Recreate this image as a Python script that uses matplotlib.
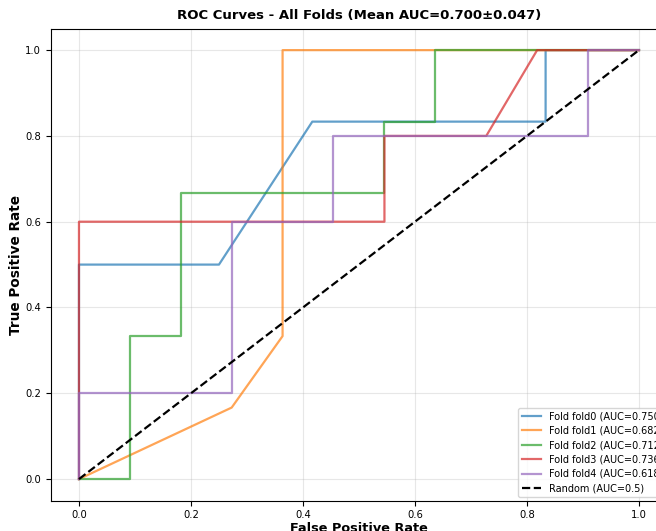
import numpy as np
import matplotlib
matplotlib.use("Agg")
import matplotlib.pyplot as plt

# ROC points per fold (fpr, tpr)
fold_names = ["fold0", "fold1", "fold2", "fold3", "fold4"]
fold_aucs = [0.750, 0.682, 0.712, 0.736, 0.618]
mean_auc = 0.700
std_auc = 0.047

fpr0 = [0.0, 0.0, 0.25, 0.4167, 0.8333, 0.8333, 1.0]
tpr0 = [0.0, 0.5, 0.5, 0.8333, 0.8333, 1.0, 1.0]

fpr1 = [0.0, 0.2727, 0.3636, 0.3636, 1.0]
tpr1 = [0.0, 0.1667, 0.3333, 1.0, 1.0]

fpr2 = [0.0, 0.0909, 0.0909, 0.1818, 0.1818, 0.5455, 0.5455, 0.6364, 0.6364, 1.0]
tpr2 = [0.0, 0.0, 0.3333, 0.3333, 0.6667, 0.6667, 0.8333, 0.8333, 1.0, 1.0]

fpr3 = [0.0, 0.0, 0.5455, 0.5455, 0.7273, 0.8182, 1.0]
tpr3 = [0.0, 0.6, 0.6, 0.8, 0.8, 1.0, 1.0]

fpr4 = [0.0, 0.0, 0.2727, 0.2727, 0.4545, 0.4545, 0.9091, 0.9091, 1.0]
tpr4 = [0.0, 0.2, 0.2, 0.6, 0.6, 0.8, 0.8, 1.0, 1.0]

fprs = [fpr0, fpr1, fpr2, fpr3, fpr4]
tprs = [tpr0, tpr1, tpr2, tpr3, tpr4]

fig = plt.figure(figsize=(6.56, 5.31), dpi=100)
# the reference is cropped on the right, so the axes run past the edge
ax = fig.add_axes([0.0777, 0.0574, 0.939, 0.8886])

for name, auc, fpr, tpr in zip(fold_names, fold_aucs, fprs, tprs):
    ax.plot(fpr, tpr, linewidth=1.6, alpha=0.7, label=f"Fold {name} (AUC={auc:.3f})")

ax.plot([0, 1], [0, 1], "k--", linewidth=1.6, label="Random (AUC=0.5)")

ax.set_xlabel("False Positive Rate", fontsize=9.3, fontweight="bold", labelpad=1)
ax.set_ylabel("True Positive Rate", fontsize=9.8, fontweight="bold", labelpad=2)
ax.set_title(f"ROC Curves - All Folds (Mean AUC={mean_auc:.3f}±{std_auc:.3f})",
             fontsize=9.5, fontweight="bold", pad=7)
ax.tick_params(labelsize=7.2)
ax.legend(loc="lower left", bbox_to_anchor=(0.758, 0.007), borderaxespad=0,
          fontsize=7.0, labelspacing=0.45)
ax.grid(True, alpha=0.3)

fig.savefig("out.png", dpi=100)
